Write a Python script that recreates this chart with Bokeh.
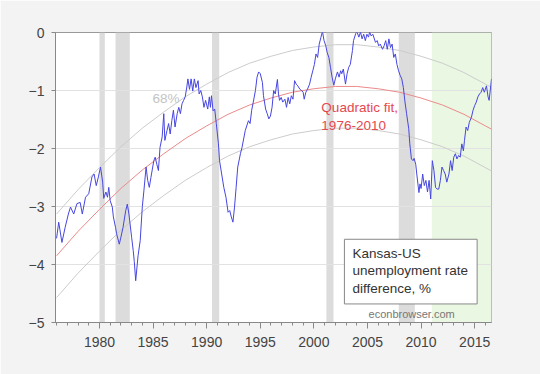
from bokeh.plotting import figure
from bokeh.models import Range1d, FixedTicker, Label
from bokeh.embed import file_html
from bokeh.resources import INLINE

# ---- data ----
dates = [1976.0, 1976.2, 1976.5, 1976.8, 1977.1, 1977.3, 1977.6, 1977.9, 1978.2, 1978.4,
         1978.7, 1979.0, 1979.3, 1979.5, 1979.7, 1979.9, 1980.1, 1980.3, 1980.4, 1980.6,
         1980.75, 1980.87, 1981.0, 1981.2, 1981.3, 1981.5, 1981.6, 1981.85, 1982.0, 1982.2,
         1982.45, 1982.6, 1982.75, 1983.0, 1983.15, 1983.25, 1983.38, 1983.6, 1983.8, 1984.0,
         1984.15, 1984.35, 1984.5, 1984.65, 1984.8, 1985.07, 1985.2, 1985.35, 1985.5, 1985.65,
         1985.85, 1986.0, 1986.1, 1986.3, 1986.45, 1986.6, 1986.75, 1986.9, 1987.05, 1987.25,
         1987.4, 1987.55, 1987.7, 1987.85, 1988.0, 1988.15, 1988.25, 1988.4, 1988.55, 1988.7,
         1988.85, 1989.0, 1989.2, 1989.3, 1989.45, 1989.6, 1989.75, 1989.9, 1990.1, 1990.25,
         1990.35, 1990.45, 1990.6, 1990.75, 1990.9, 1991.1, 1991.2, 1991.4, 1991.6, 1991.8,
         1992.0, 1992.15, 1992.3, 1992.45, 1992.6, 1992.75, 1992.9, 1993.15, 1993.3, 1993.6,
         1993.9, 1994.05, 1994.2, 1994.35, 1994.55, 1994.7, 1994.85, 1995.0, 1995.2, 1995.3,
         1995.5, 1995.65, 1995.8, 1995.95, 1996.1, 1996.25, 1996.4, 1996.6, 1996.7, 1996.8,
         1996.95, 1997.1, 1997.3, 1997.45, 1997.6, 1997.75, 1997.9, 1998.05, 1998.2, 1998.35,
         1998.5, 1998.7, 1998.85, 1999.0, 1999.1, 1999.25, 1999.4, 1999.6, 1999.75, 1999.9,
         2000.05, 2000.2, 2000.35, 2000.5, 2000.65, 2000.8, 2000.95, 2001.1, 2001.25, 2001.4,
         2001.55, 2001.7, 2001.86, 2002.0, 2002.2, 2002.35, 2002.5, 2002.6, 2002.75, 2002.95,
         2003.1, 2003.25, 2003.4, 2003.6, 2003.7, 2003.9, 2004.0, 2004.2, 2004.35, 2004.5,
         2004.65, 2004.8, 2004.95, 2005.1, 2005.2, 2005.35, 2005.5, 2005.75, 2005.9, 2006.05,
         2006.2, 2006.4, 2006.55, 2006.7, 2006.85, 2007.0, 2007.15, 2007.3, 2007.45, 2007.6,
         2007.75, 2007.9, 2008.05, 2008.2, 2008.35, 2008.5, 2008.65, 2008.85, 2008.95, 2009.1,
         2009.25, 2009.35, 2009.5, 2009.6, 2009.8, 2009.9, 2010.0, 2010.15, 2010.3, 2010.45,
         2010.6, 2010.75, 2010.9, 2011.05, 2011.2, 2011.35, 2011.5, 2011.65, 2011.8, 2011.95,
         2012.1, 2012.25, 2012.4, 2012.6, 2012.75, 2012.9, 2013.05, 2013.2, 2013.35, 2013.5,
         2013.65, 2013.8, 2013.95, 2014.05, 2014.2, 2014.35, 2014.5, 2014.7, 2014.85, 2015.0,
         2015.15, 2015.3, 2015.45, 2015.6, 2015.75, 2015.9, 2016.1, 2016.25, 2016.35, 2016.5,
         2016.57]
diff = [-3.55, -3.27, -3.62, -3.36, -3.13, -3.01, -3.13, -2.95, -2.93, -3.13,
        -2.84, -2.78, -2.49, -2.44, -2.64, -2.49, -2.32, -2.58, -2.86, -2.75,
        -2.84, -2.67, -2.90, -3.01, -3.18, -3.36, -3.47, -3.65, -3.53, -3.36,
        -3.07, -2.96, -3.13, -3.53, -3.76, -3.95, -4.28, -3.85, -3.59, -3.00,
        -2.72, -2.32, -2.55, -2.67, -2.50, -2.21, -2.15, -2.27, -2.38, -1.98,
        -1.80, -1.40, -1.86, -1.69, -1.57, -1.75, -1.52, -1.34, -1.63, -1.40,
        -1.29, -1.40, -1.23, -1.17, -1.11, -0.94, -0.80, -0.98, -0.80, -1.01,
        -0.80, -0.95, -0.83, -1.06, -1.00, -1.11, -1.29, -1.17, -1.32, -1.11,
        -1.29, -1.09, -1.35, -1.32, -1.57, -1.92, -2.21, -2.44, -2.67, -2.84,
        -3.10, -3.07, -3.18, -3.27, -3.01, -2.67, -2.32, -2.09, -1.98, -1.69,
        -1.52, -1.57, -1.34, -1.20, -1.00, -0.77, -0.68, -0.71, -0.86, -1.09,
        -1.32, -1.40, -1.49, -1.44, -1.29, -1.00, -1.06, -0.81, -1.06, -1.17,
        -1.12, -1.20, -1.15, -1.29, -1.12, -1.23, -1.09, -1.15, -0.83, -0.89,
        -0.92, -0.98, -1.00, -1.03, -1.15, -1.03, -0.98, -0.89, -0.77, -0.66,
        -0.55, -0.37, -0.43, -0.20, -0.09, 0.02, -0.14, -0.22, -0.35, -0.43,
        -0.60, -0.77, -0.91, -0.80, -0.68, -0.77, -0.66, -0.71, -0.63, -0.89,
        -0.71, -0.60, -0.55, -0.31, -0.14, -0.02, 0.02, -0.08, 0.01, -0.11,
        -0.03, -0.14, -0.03, -0.08, 0.01, -0.06, -0.03, -0.17, -0.14, -0.23,
        -0.20, -0.29, -0.23, -0.14, -0.29, -0.11, -0.26, -0.20, -0.43, -0.37,
        -0.55, -0.66, -0.74, -0.80, -0.95, -1.20, -1.40, -1.66, -1.92, -2.18,
        -2.21, -2.17, -2.27, -2.44, -2.76, -2.61, -2.69, -2.44, -2.64, -2.55,
        -2.75, -2.55, -2.87, -2.21, -2.38, -2.67, -2.70, -2.70, -2.55, -2.32,
        -2.38, -2.44, -2.58, -2.44, -2.21, -2.38, -2.15, -2.09, -2.18, -2.12,
        -2.15, -1.92, -2.04, -1.86, -1.63, -1.69, -1.55, -1.46, -1.34, -1.26,
        -1.20, -1.11, -1.06, -1.03, -0.95, -1.03, -0.92, -1.11, -1.17, -0.92,
        -0.80]

fit_years = [1976, 1978, 1980, 1982, 1984, 1986, 1988, 1990, 1992, 1994, 1996,
             1998, 2000, 2002, 2004, 2006, 2008, 2010, 2012, 2014, 2016, 2016.6]
fit = [-3.85, -3.43, -3.05, -2.69, -2.37, -2.09, -1.83, -1.61, -1.41, -1.25, -1.13,
       -1.03, -0.97, -0.93, -0.93, -0.97, -1.03, -1.13, -1.25, -1.41, -1.61, -1.67]
upper = [-3.13, -2.71, -2.33, -1.97, -1.65, -1.37, -1.11, -0.89, -0.69, -0.53, -0.41,
         -0.31, -0.25, -0.21, -0.21, -0.25, -0.31, -0.41, -0.53, -0.69, -0.89, -0.95]
lower = [-4.57, -4.15, -3.77, -3.41, -3.09, -2.81, -2.55, -2.33, -2.13, -1.97, -1.85,
         -1.75, -1.69, -1.65, -1.65, -1.69, -1.75, -1.85, -1.97, -2.13, -2.33, -2.39]

rec_start = [1980.0, 1981.5, 1990.5, 2001.17, 2007.92]
rec_end = [1980.5, 1982.83, 1991.17, 2001.83, 2009.42]
brownback_start = [2011.0]
brownback_end = [2016.6]

x_ticks = [1980, 1985, 1990, 1995, 2000, 2005, 2010, 2015]
x_minor = list(range(1976, 2017))
y_ticks = [0, -1, -2, -3, -4, -5]

FONT = "Liberation Sans"

p = figure(width=540, height=374, output_backend="svg", toolbar_location=None,
           x_range=Range1d(1975.9, 2016.57), y_range=Range1d(-5, 0),
           min_border_left=55, min_border_right=49, min_border_top=32, min_border_bottom=52)
p.border_fill_color = "#f3f3f3"
p.background_fill_color = "white"
p.outline_line_color = "#999999"

# shading
rec = p.quad(left=rec_start, right=rec_end, bottom=-5, top=0,
             fill_color="#dcdcdc", line_color=None)
rec.level = "image"
grn = p.quad(left=brownback_start, right=brownback_end, bottom=-5, top=0,
             fill_color="#eaf7e2", line_color=None)
grn.level = "image"

# fit and bands
p.line(fit_years, upper, line_color="#cccccc", line_width=1)
p.line(fit_years, lower, line_color="#cccccc", line_width=1)
p.line(fit_years, fit, line_color="#eb8a8a", line_width=1)

# series
p.line(dates, diff, line_color="#4646e0", line_width=1)

# axes
p.xaxis.ticker = FixedTicker(ticks=x_ticks, minor_ticks=x_minor)
p.yaxis.ticker = FixedTicker(ticks=y_ticks)
for ax in (p.xaxis[0], p.yaxis[0]):
    ax.axis_line_color = "#888888"
    ax.major_tick_line_color = "#888888"
    ax.minor_tick_line_color = "#888888"
    ax.major_label_text_font = FONT
    ax.major_label_text_font_size = "14px"
    ax.major_label_text_color = "#444444"
    ax.major_tick_in = 0
    ax.minor_tick_in = 0
p.xaxis.major_tick_out = 6
p.xaxis.minor_tick_out = 3
p.xaxis.major_label_standoff = 8
p.yaxis.major_tick_out = 4
p.yaxis.minor_tick_line_color = None
p.yaxis.major_label_standoff = 7

p.xgrid.visible = False
p.ygrid.grid_line_color = "#e2e2e2"

# texts
p.add_layout(Label(x=1984.95, y=-1.13, text="68%", text_font=FONT,
                   text_font_size="13.5px", text_color="#c4c4c4", text_baseline="alphabetic"))
p.add_layout(Label(x=2000.7, y=-1.29, text="Quadratic fit,", text_font=FONT,
                   text_font_size="13.5px", text_color="#e5484f", text_baseline="alphabetic"))
p.add_layout(Label(x=2000.7, y=-1.60, text="1976-2010", text_font=FONT,
                   text_font_size="13.5px", text_color="#e5484f", text_baseline="alphabetic"))

# legend box
p.quad(left=[2002.85], right=[2015.23], top=[-3.565], bottom=[-4.68],
       fill_color="white", line_color="#888888", line_width=1)
for txt, yy in (("Kansas-US", -3.81), ("unemployment rate", -4.11), ("difference, %", -4.42)):
    p.add_layout(Label(x=2003.6, y=yy, text=txt, text_font=FONT, text_font_size="13.5px",
                       text_color="#333333", text_baseline="middle"))
p.add_layout(Label(x=2005.1, y=-4.86, text="econbrowser.com", text_font=FONT,
                   text_font_size="11px", text_color="#777777", text_baseline="alphabetic"))

open("out.html", "w").write(file_html(p, INLINE))
